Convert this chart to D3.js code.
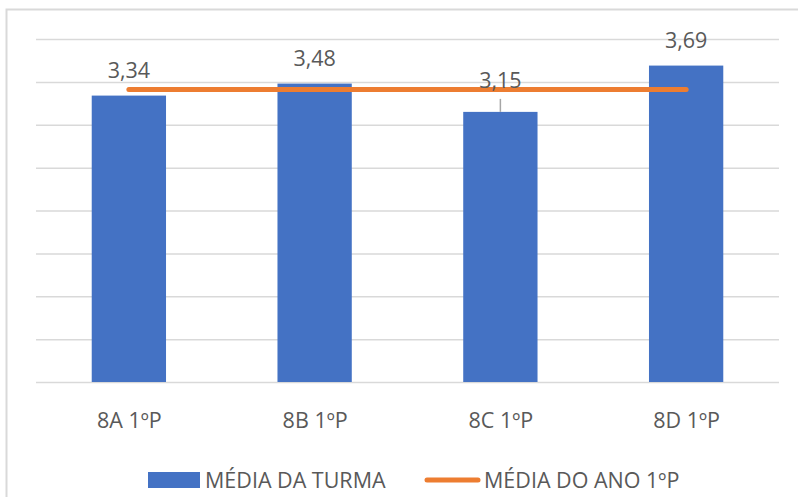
<!DOCTYPE html>
<html>
<head>
<meta charset="utf-8">
<script src="https://cdn.jsdelivr.net/npm/d3@7"></script>
<style>
  body { margin: 0; background: #fff; }
  svg { display: block; font-family: "Open Sans", sans-serif; }
</style>
</head>
<body>
<svg id="chart" width="798" height="497"></svg>
<script>
// data
const categories = ["8A 1ºP", "8B 1ºP", "8C 1ºP", "8D 1ºP"];
const turmaValues = [3.34, 3.48, 3.15, 3.69];
const anoValues = [3.41, 3.41, 3.41, 3.41];
const yTicks = [0, 0.5, 1, 1.5, 2, 2.5, 3, 3.5, 4];
const seriesNames = ["MÉDIA DA TURMA", "MÉDIA DO ANO 1ºP"];

const svg = d3.select("#chart");
const blue = "#4472C4", orange = "#ED7D31", grid = "#d9d9d9", txt = "#595959";
const fs = 21.5;

// chart frame (goes past the right / bottom of the window)
svg.append("rect")
    .attr("x", 6.5).attr("y", 9.5)
    .attr("width", 900).attr("height", 600)
    .attr("fill", "none").attr("stroke", grid).attr("stroke-width", 2);

let plot = { left: 36, right: 779, top: 39, bottom: 382 };

let x = d3.scaleBand()
    .domain(categories)
    .range([plot.left, plot.right])
    .paddingInner(0.6).paddingOuter(0.3);

let xc = d3.scalePoint()
    .domain(categories)
    .range([plot.left, plot.right])
    .padding(0.5);

let y = d3.scaleLinear().domain([0, 4]).range([plot.bottom, plot.top]);

// gridlines
let yAxis = d3.axisLeft(y).tickValues(yTicks)
    .tickSize(-(plot.right - plot.left)).tickFormat("");
let gy = svg.append("g")
    .attr("transform", "translate(" + plot.left + ",0)")
    .call(yAxis);
gy.select(".domain").remove();
gy.selectAll("line").attr("stroke", grid).attr("stroke-width", 1.5);

// bars
let bars = svg.append("g").selectAll("rect").data(turmaValues).enter()
    .append("rect")
    .attr("x", function (d, i) { return xc(categories[i]) - x.bandwidth() / 2; })
    .attr("width", x.bandwidth())
    .attr("y", function (d) { return y(d); })
    .attr("height", function (d) { return plot.bottom - y(d); })
    .attr("fill", blue);

// year average line
let line = d3.line()
    .x(function (d, i) { return xc(categories[i]); })
    .y(function (d) { return y(d); });
svg.append("path")
    .datum(anoValues)
    .attr("d", line)
    .attr("fill", "none")
    .attr("stroke", orange)
    .attr("stroke-width", 5)
    .attr("stroke-linecap", "round");

// data labels (8C one is pushed up with a leader line)
turmaValues.forEach(function (d, i) {
    let cx = xc(categories[i]);
    let off = (i == 2) ? 24 : 18;
    if (i == 2) {
        svg.append("line")
            .attr("x1", cx).attr("x2", cx)
            .attr("y1", y(d) - 13).attr("y2", y(d))
            .attr("stroke", "#a6a6a6").attr("stroke-width", 1.5);
    }
    svg.append("text")
        .attr("x", cx)
        .attr("y", y(d) - off)
        .attr("text-anchor", "middle")
        .attr("fill", txt)
        .attr("font-size", fs)
        .text(d3.format(".2f")(d).replace(".", ","));
});

// x axis labels
let xAxis = d3.axisBottom(xc).tickSize(0).tickPadding(30.5);
let gx = svg.append("g")
    .attr("transform", "translate(0," + plot.bottom + ")")
    .call(xAxis);
gx.select(".domain").remove();
gx.selectAll("text").attr("fill", txt).attr("font-size", fs)
    .attr("font-family", "Open Sans, sans-serif");

// legend
let lg = svg.append("g");
lg.append("rect").attr("x", 148).attr("y", 472).attr("width", 52).attr("height", 16).attr("fill", blue);
lg.append("text").attr("x", 205).attr("y", 488).attr("fill", txt).attr("font-size", fs).text(seriesNames[0]);
lg.append("line").attr("x1", 427).attr("x2", 478).attr("y1", 480).attr("y2", 480)
    .attr("stroke", orange).attr("stroke-width", 5).attr("stroke-linecap", "round");
lg.append("text").attr("x", 484).attr("y", 488).attr("fill", txt).attr("font-size", fs).text(seriesNames[1]);
</script>
</body>
</html>
